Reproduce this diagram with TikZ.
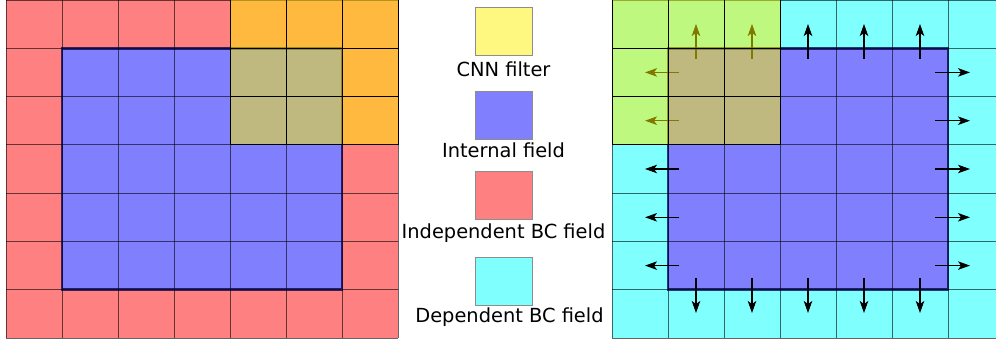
\documentclass[tikz,border=0pt]{standalone}
\usepackage{fontspec}
\setsansfont{DejaVu Sans}
\usetikzlibrary{positioning,arrows.meta}
\definecolor{bcred}{HTML}{FF8080}
\definecolor{bccyan}{HTML}{80FFFF}
\definecolor{fieldblue}{HTML}{8080FF}
\tikzset{
    grid line/.style={black,opacity=.6,line width=.9pt},
    filter line/.style={black,line width=.9pt},
    internal/.style={fill=fieldblue},
    internal edge/.style={draw=blue!25!black,opacity=.75,line width=2.6pt},
    filter/.style={fill=yellow,fill opacity=.5},
    flux/.style={-{Stealth[length=12pt,width=8.5pt,inset=3pt]},line width=1.1pt},
    legend box/.style={draw=black!45,line width=.9pt,minimum width=57pt,minimum height=48pt,inner sep=0pt},
    legend text/.style={font=\sffamily\fontsize{19.4}{22}\selectfont,inner sep=0pt},
}

\begin{document}
\begin{tikzpicture}[x=1pt,y=-1pt]
    \useasboundingbox (0,0) rectangle (996,345);
    % left: independent BC field
    \fill[bcred] (6,0) rectangle (398,338);
    \fill[internal] (62,48.29) rectangle (342,289.71);
    \foreach \i in {0,...,7}
    \draw[grid line] (6+56*\i,0) -- (6+56*\i,338);
    \foreach \j in {0,...,7}
    \draw[grid line] (6,48.286*\j) -- (398,48.286*\j);
    \draw[internal edge] (62,48.29) rectangle (342,289.71);
    \fill[filter] (230,0) rectangle (398,144.86);
    \foreach \i in {0,...,3}
    \draw[filter line] (230+56*\i,0) -- (230+56*\i,144.86);
    \foreach \j in {1,2,3}
    \draw[filter line] (230,48.286*\j) -- (398,48.286*\j);

    % legend
    \node[legend box,fill=yellow!50] (filterbox) at (503.5,31) {};
    \node[legend text,below=6pt of filterbox] (filtertext) {CNN filter};
    \node[legend box,internal] (internalbox) at (503.5,115.5) {};
    \node[legend text,below=3pt of internalbox] (internaltext) {Internal field};
    \node[legend box,fill=bcred] (indepbox) at (503.5,195.5) {};
    \node[legend text,below=4pt of indepbox] (indeptext) {Independent BC field};
    \node[legend box,fill=bccyan] (depbox) at (503.5,281.5) {};
    \node[legend text,below=2pt of depbox,xshift=6pt] (deptext) {Dependent BC field};

    % right: dependent BC field
    \fill[bccyan] (612,0) rectangle (996,338);
    \fill[internal] (668,48.29) rectangle (948,289.71);
    \foreach \i in {0,...,6}
    \draw[grid line] (612+56*\i,0) -- (612+56*\i,338);
    \foreach \j in {0,...,7}
    \draw[grid line] (612,48.286*\j) -- (996,48.286*\j);
    \draw[internal edge] (668,48.29) rectangle (948,289.71);
    \foreach \x in {696,752,808,864,920} {
        \draw[flux] (\x,59) -- (\x,24);
        \draw[flux] (\x,278) -- (\x,313);
    }
    \foreach \y in {72.4,120.7,169,217.3,265.6} {
        \draw[flux] (679,\y) -- (645,\y);
        \draw[flux] (935,\y) -- (970,\y);
    }
    \fill[filter] (612,0) rectangle (780,144.86);
    \foreach \i in {0,...,3}
    \draw[filter line] (612+56*\i,0) -- (612+56*\i,144.86);
    \foreach \j in {1,2,3}
    \draw[filter line] (612,48.286*\j) -- (780,48.286*\j);
\end{tikzpicture}
\end{document}
